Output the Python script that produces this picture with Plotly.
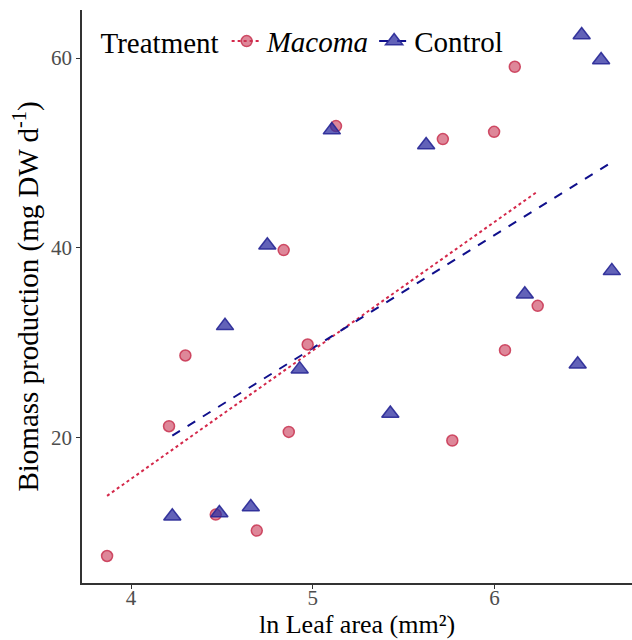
import numpy as np
import plotly.graph_objects as go

# Data
macoma_x = [5.128, 4.840, 6.112, 5.716, 5.998, 6.238, 4.299, 4.972, 4.209, 4.868,
            4.466, 4.692, 3.868, 6.058, 5.768]
macoma_y = [52.82, 39.74, 59.08, 51.45, 52.22, 33.86, 28.62, 29.78, 21.16, 20.56,
            11.84, 10.15, 7.47, 29.18, 19.65]
control_x = [5.105, 4.750, 6.480, 6.587, 5.624, 6.646, 6.167, 4.517, 4.928, 5.427,
             6.458, 4.227, 4.486, 4.659]
control_y = [52.40, 40.26, 62.43, 59.79, 50.82, 37.55, 35.09, 31.75, 27.18, 22.50,
             27.70, 11.66, 12.01, 12.64]
x_ticks = [4, 5, 6]
y_ticks = [20, 40, 60]

FONT = "Liberation Serif"
RED_FILL = "rgba(200, 55, 85, 0.6)"
RED_LINE = "rgba(200, 50, 80, 0.85)"
RED = "#D4284A"
BLUE_FILL = "rgba(45, 45, 160, 0.75)"
BLUE_LINE = "rgba(40, 40, 150, 0.9)"
BLUE = "#10108C"


def fit_line(x, y):
    x = np.asarray(x)
    y = np.asarray(y)
    slope, intercept = np.polyfit(x, y, 1)
    xs = np.array([x.min(), x.max()])
    return xs, intercept + slope * xs


fig = go.Figure()

mx, my = fit_line(macoma_x, macoma_y)
cx, cy = fit_line(control_x, control_y)

fig.add_trace(go.Scatter(x=mx, y=my, mode="lines", showlegend=False,
                         line=dict(color=RED, width=2, dash="dot")))
fig.add_trace(go.Scatter(x=cx, y=cy, mode="lines", showlegend=False,
                         line=dict(color=BLUE, width=2, dash="dash")))

fig.add_trace(go.Scatter(x=macoma_x, y=macoma_y, mode="markers", showlegend=False,
                         marker=dict(symbol="circle", size=11, color=RED_FILL,
                                     line=dict(color=RED_LINE, width=1.5))))
fig.add_trace(go.Scatter(x=control_x, y=control_y, mode="markers", showlegend=False,
                         marker=dict(symbol="triangle-up", size=15, color=BLUE_FILL,
                                     line=dict(color=BLUE_LINE, width=1.5))))

# legend-only entries (line + marker key like ggplot)
fig.add_trace(go.Scatter(x=[np.nan], y=[np.nan], mode="lines+markers", name="<i>Macoma</i>",
                         line=dict(color=RED, width=2, dash="dot"),
                         marker=dict(symbol="circle", size=11, color=RED_FILL,
                                     line=dict(color=RED_LINE, width=1.5))))
fig.add_trace(go.Scatter(x=[np.nan], y=[np.nan], mode="lines+markers", name="Control",
                         line=dict(color=BLUE, width=2, dash="dash"),
                         marker=dict(symbol="triangle-up", size=15, color=BLUE_FILL,
                                     line=dict(color=BLUE_LINE, width=1.5))))

fig.update_layout(
    width=632, height=640,
    margin=dict(l=82, r=0, t=10, b=57),
    paper_bgcolor="white", plot_bgcolor="white",
    font=dict(family=FONT, color="black", size=18),
    legend=dict(orientation="h", x=0.03, y=0.99, xanchor="left", yanchor="top",
                bgcolor="rgba(0,0,0,0)",
                title=dict(text="Treatment", font=dict(size=29, family=FONT)),
                font=dict(size=29, family=FONT), itemwidth=30),
    xaxis=dict(range=[3.730, 6.757], tickvals=x_ticks, ticktext=[str(t) for t in x_ticks],
               showgrid=False, zeroline=False, showline=True, linecolor="#333333",
               linewidth=1.5, ticks="outside", ticklen=4, tickcolor="#333333",
               ticklabelstandoff=-9,
               tickfont=dict(size=21, color="#4D4D4D", family=FONT)),
    yaxis=dict(range=[4.62, 65.07], tickvals=y_ticks, ticktext=[str(t) for t in y_ticks],
               showgrid=False, zeroline=False, showline=True, linecolor="#333333",
               linewidth=1.5, ticks="outside", ticklen=4, tickcolor="#333333",
               tickfont=dict(size=21, color="#4D4D4D", family=FONT),
               title=dict(text="Biomass production (mg DW d<sup>-1</sup>)",
                          font=dict(size=29, family=FONT), standoff=4)),
    annotations=[dict(text="ln Leaf area (mm²)", xref="paper", yref="paper",
                      x=0.5, y=-57 / 573, xanchor="center", yanchor="bottom",
                      showarrow=False, font=dict(size=26, family=FONT, color="black"),
                      borderpad=0)],
)

fig.write_html("out.html")
